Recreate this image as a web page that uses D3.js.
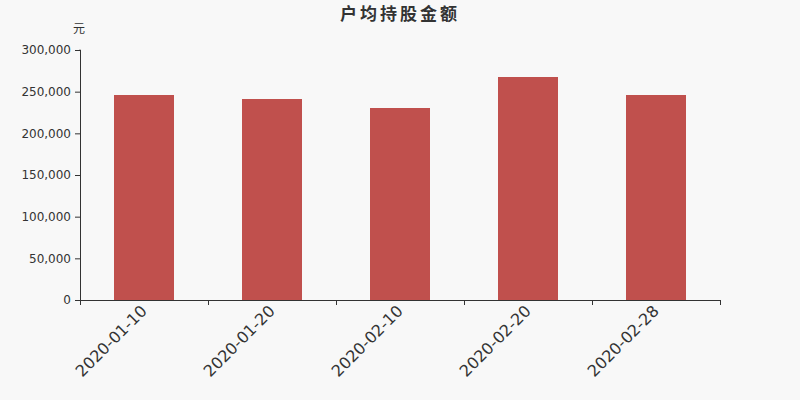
<!DOCTYPE html>
<html>
<head>
<meta charset="utf-8">
<script src="https://cdn.jsdelivr.net/npm/d3@7"></script>
<style>
html,body{margin:0;padding:0;background:#f8f8f8;}
svg{display:block;}
</style>
</head>
<body>
<svg id="chart" width="800" height="400"></svg>
<script>
const categories = ["2020-01-10", "2020-01-20", "2020-02-10", "2020-02-20", "2020-02-28"];
const values = [246000, 241200, 230400, 267600, 246000];
const yTicks = [0, 50000, 100000, 150000, 200000, 250000, 300000];
const title = "户均持股金额";
const unit = "元";

const svg = d3.select("#chart");
const margin = {left: 80, right: 80, top: 50, bottom: 100};
const W = 800, H = 400;

svg.append("rect").attr("width", W).attr("height", H).attr("fill", "#f8f8f8");

const x = d3.scaleBand().domain(categories).range([margin.left, W - margin.right]).paddingInner(0).paddingOuter(0);
const y = d3.scaleLinear().domain([0, 300000]).range([H - margin.bottom, margin.top]);

const barW = 60;
svg.append("g").selectAll("rect").data(categories).join("rect")
  .attr("x", (d) => x(d) + x.bandwidth() / 2 - barW / 2)
  .attr("width", barW)
  .attr("y", (d, i) => y(values[i]))
  .attr("height", (d, i) => y(0) - y(values[i]))
  .attr("fill", "#c0504d");

// y axis
const yAxis = svg.append("g").attr("transform", `translate(${margin.left},0)`)
  .call(d3.axisLeft(y).tickValues(yTicks).tickSize(5).tickPadding(4).tickFormat(d3.format(",")));
yAxis.select(".domain").attr("stroke", "#333").attr("d", `M-0.5,${y(300000)}H0.5V${y(0)}`);
yAxis.selectAll(".tick line").attr("stroke", "#333");
yAxis.selectAll("text").attr("fill", "#333").attr("font-size", 12).attr("font-family", "DejaVu Sans");

// x axis
const xAxis = svg.append("g").attr("transform", `translate(0,${y(0)})`);
xAxis.append("line").attr("x1", margin.left).attr("x2", W - margin.right).attr("y1", 0.5).attr("y2", 0.5).attr("stroke", "#333");
const bounds = categories.map(c => x(c)).concat([x(categories[categories.length - 1]) + x.bandwidth()]);
xAxis.selectAll("line.tk").data(bounds).join("line").attr("class", "tk")
  .attr("x1", d => Math.round(d) + 0.5).attr("x2", d => Math.round(d) + 0.5)
  .attr("y1", 0).attr("y2", 5).attr("stroke", "#333");
xAxis.selectAll("text").data(categories).join("text")
  .attr("transform", d => `translate(${x(d) + x.bandwidth() / 2 + 4},${12}) rotate(-45)`)
  .attr("text-anchor", "end")
  .attr("font-size", 16)
  .attr("font-family", "DejaVu Sans")
  .attr("fill", "#333")
  .text(d => d);

// title
svg.append("text").attr("x", 400).attr("y", 20).attr("text-anchor", "middle")
  .attr("font-size", 17).attr("font-weight", "bold").attr("letter-spacing", 3)
  .attr("font-family", "Noto Sans CJK SC").attr("fill", "#333").text(title);

svg.append("text").attr("x", 79).attr("y", 33).attr("text-anchor", "middle")
  .attr("font-size", 12).attr("font-family", "Noto Sans CJK SC").attr("fill", "#333").text(unit);
</script>
</body>
</html>
